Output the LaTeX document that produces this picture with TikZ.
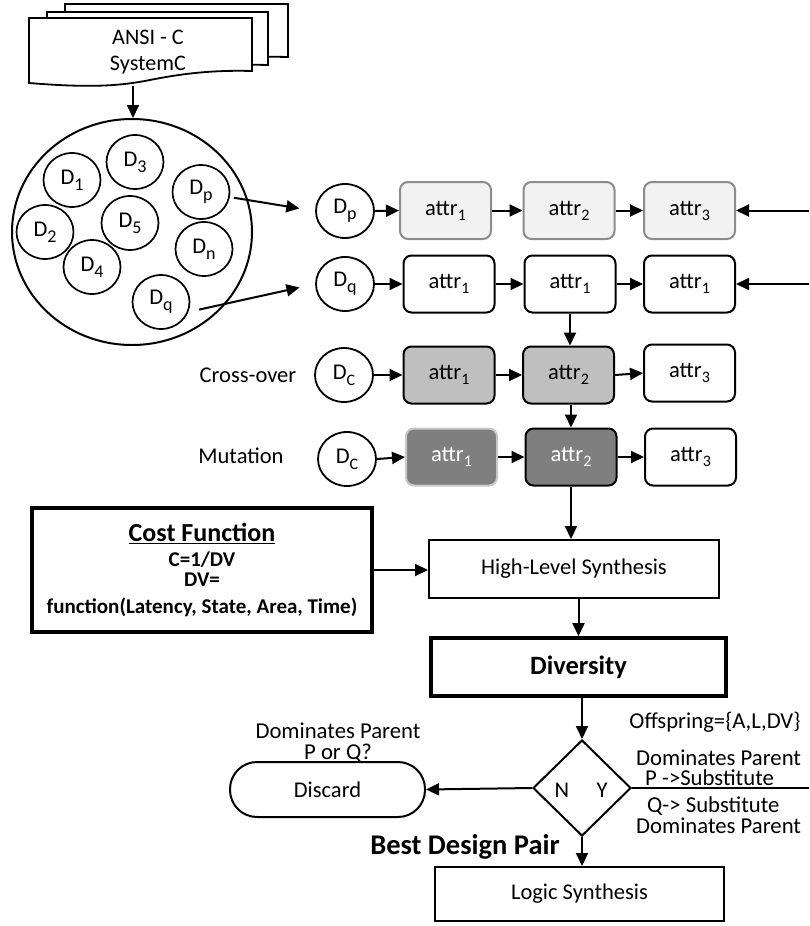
\documentclass[tikz,border=0pt]{standalone}
\usepackage{fontspec}
\setmainfont{Carlito}
\usetikzlibrary{shapes.geometric, arrows.meta}

% lowered subscripts for design labels and attributes
\newcommand\lowsub[1]{\raisebox{-6pt}{\fontsize{18}{18}\selectfont #1}}
\newcommand\csub[1]{\raisebox{-6pt}{\fontsize{16}{16}\selectfont #1}}
\newcommand\attrsub[1]{\raisebox{-5pt}{\fontsize{16}{16}\selectfont #1}}

\definecolor{paleFill}{HTML}{F2F2F2}
\definecolor{paleEdge}{HTML}{8C8C8C}
\definecolor{midFill}{HTML}{BFBFBF}
\definecolor{darkFill}{HTML}{7F7F7F}
\definecolor{lightEdge}{HTML}{C8C8C8}

\begin{document}
\begin{tikzpicture}[x=1pt, y=-1pt,
  every node/.style={font=\fontsize{22.5}{26}\selectfont, inner sep=0pt},
  arr/.style={-{Triangle[length=13pt,width=12pt]}, line width=2pt},
  plainline/.style={line width=2pt},
  docline/.style={draw, fill=white, line width=1.8pt},
  pooldot/.style={ellipse, draw, line width=1.7pt, minimum width=57pt, minimum height=54pt},
  rowdot/.style={ellipse, draw, line width=1.8pt, minimum width=58pt, minimum height=54pt},
  attrbox/.style={rectangle, rounded corners=8pt, draw, line width=2pt, minimum width=91pt, minimum height=57pt},
  palebox/.style={attrbox, draw=paleEdge, fill=paleFill},
  crossbox/.style={attrbox, fill=midFill},
  mutbox/.style={attrbox, fill=darkFill, text=white},
  flowbox/.style={rectangle, draw, line width=2pt},
  heavybox/.style={rectangle, draw, line width=3.8pt},
]
\useasboundingbox (0,0) rectangle (809,926);

% stacked source documents
\begin{scope}[shift={(36,-14)}]
  \draw[docline] (29,18) -- (252,18) -- (252,71) .. controls (215,70) and (185,73) .. (150,80) .. controls (120,86) and (90,88) .. (29,83) -- cycle;
\end{scope}
\begin{scope}[shift={(18,-6)}]
  \draw[docline] (29,18) -- (250,18) -- (250,71) .. controls (215,70) and (185,73) .. (150,80) .. controls (120,86) and (90,88) .. (29,83) -- cycle;
\end{scope}
\draw[docline] (29,18) -- (252,18) -- (252,71) .. controls (215,70) and (185,73) .. (150,80) .. controls (120,86) and (90,88) .. (29,83) -- cycle;
\node[align=center, font=\fontsize{22.2}{26}\selectfont] (srcdoc) at (148,52) {ANSI - C\\SystemC};
\coordinate (docfoot) at (133,86);

% design pool
\node[ellipse, draw, line width=2pt, minimum width=240pt, minimum height=226pt] (pool) at (132,232) {};
\node[pooldot] (d1) at (72,180) {D\lowsub{1}};
\node[pooldot] (d3) at (135,162) {D\lowsub{3}};
\node[pooldot] (dp) at (201,192) {D\lowsub{p}};
\node[pooldot] (d2) at (45,232) {D\lowsub{2}};
\node[pooldot] (d5) at (130,223) {D\lowsub{5}};
\node[pooldot] (dn) at (204,249) {D\lowsub{n}};
\node[pooldot] (d4) at (92,267) {D\lowsub{4}};
\node[pooldot] (dq) at (161,302) {D\lowsub{q}};

\draw[arr] (docfoot) -- (docfoot |- pool.north);

% parent P
\node[rowdot] (pD) at (345,211) {D\lowsub{p}};
\node[palebox] (p1) at (445.5,210.5) {attr\attrsub{1}};
\node[palebox] (p2) at (569,210.5) {attr\attrsub{2}};
\node[palebox] (p3) at (689.5,210.5) {attr\attrsub{3}};

% parent Q
\node[rowdot] (qD) at (345,284) {D\lowsub{q}};
\node[attrbox] (q1) at (449,284) {attr\attrsub{1}};
\node[attrbox] (q2) at (570,284) {attr\attrsub{1}};
\node[attrbox] (q3) at (689.5,284) {attr\attrsub{1}};

% cross-over child
\node (xover) at (248,375) {Cross-over};
\node[rowdot] (cD) at (344,375) {D\csub{C}};
\node[crossbox] (c1) at (449,375) {attr\attrsub{1}};
\node[crossbox] (c2) at (568.5,375) {attr\attrsub{2}};
\node[attrbox] (c3) at (689.5,373) {attr\attrsub{3}};

% mutated child
\node (mutlbl) at (241,456) {Mutation};
\node[rowdot] (mD) at (347,459) {D\csub{C}};
\node[mutbox, draw=lightEdge] (m1) at (451.5,457) {attr\attrsub{1}};
\node[mutbox] (m2) at (571,457) {attr\attrsub{2}};
\node[attrbox] (m3) at (690.5,457) {attr\attrsub{3}};

% selection of the parents
\draw[arr, shorten <=4pt, shorten >=16pt] (dp.-10) -- (pD.west);
\draw[arr, shorten <=11pt, shorten >=16pt] (dq.-20) -- (qD.west);

\coordinate (rp) at (809,210.5);
\coordinate (rq) at (809,284);
\draw[arr] (rp) -- (p3.east);
\draw[arr] (rq) -- (q3.east);

\draw[arr] (pD.east) -- (p1.west);
\draw[arr] (p1.east) -- (p2.west);
\draw[arr] (p2.east) -- (p3.west);
\draw[arr] (qD.east) -- (q1.west);
\draw[arr] (q1.east) -- (q2.west);
\draw[arr] (q2.east) -- (q3.west);
\draw[arr] (cD.east) -- (c1.west);
\draw[arr] (c1.east) -- (c2.west);
\draw[arr] (c2.east) -- (c3.west);
\draw[arr] (mD.east) -- (m1.west);
\draw[arr] (m1.east) -- (m2.west);
\draw[arr] (m2.east) -- (m3.west);

\draw[arr] (q2.south) -- (q2.south |- c2.north);
\draw[arr] (m2.north |- c2.south) -- (m2.north);

% synthesis and evaluation
\node[heavybox, minimum width=340pt, minimum height=124pt, align=center,
      font=\bfseries\fontsize{21}{20}\selectfont] (cost) at (202,570)
  {{\fontsize{26}{26}\selectfont\underline{Cost Function}}\\[5pt]
   C=1/DV\\
   DV=\\[7pt]
   function(Latency, State, Area, Time)};
\node[flowbox, minimum width=290pt, minimum height=58pt] (hls) at (574,569) {High-Level Synthesis};
\node[heavybox, minimum width=295pt, minimum height=58pt, font=\bfseries\fontsize{26.5}{28}\selectfont] (div) at (578.5,667) {Diversity};
\node[diamond, draw, line width=2pt, minimum width=98pt, minimum height=96pt] (dia) at (582,788) {};
\node (nlbl) at (562,790) {N};
\node (ylbl) at (602,790) {Y};
\node[rectangle, draw, line width=2pt, rounded corners=27pt, minimum width=195pt, minimum height=55pt] (discard) at (327.5,789.5) {Discard};
\node[flowbox, minimum width=289pt, minimum height=54pt] (logic) at (579.5,894) {Logic Synthesis};

\node[align=center, font=\fontsize{22.7}{21}\selectfont] (domq) at (338,743) {Dominates Parent\\P or Q?};
\node[font=\bfseries\fontsize{28.5}{30}\selectfont] (best) at (465,847) {Best Design Pair};
\node[font=\fontsize{22.7}{26}\selectfont] (offs) at (715,722) {Offspring=\{A,L,DV\}};
\node[align=left, anchor=west, font=\fontsize{22.7}{20.5}\selectfont] (domp) at (636,768) {Dominates Parent\\\hspace*{9pt}P ->Substitute};
\node[align=left, anchor=west, font=\fontsize{22.7}{21}\selectfont] (subq) at (636,815) {\hspace*{11pt}Q-> Substitute\\Dominates Parent};

\coordinate (ry) at (809,788);

\draw[arr] (m2.south) -- (m2.south |- hls.north);
\draw[arr] (cost.east) -- (cost.east -| hls.west);
\draw[arr] (hls.south -| div.north) -- (div.north);
\draw[arr] (div.south -| dia.north) -- (dia.north);
\draw[arr] (dia.west) -- (discard.east);
\draw[arr] (dia.south) -- (dia.south |- logic.north);
\draw[plainline] (dia.east) -- (ry);
\end{tikzpicture}
\end{document}
